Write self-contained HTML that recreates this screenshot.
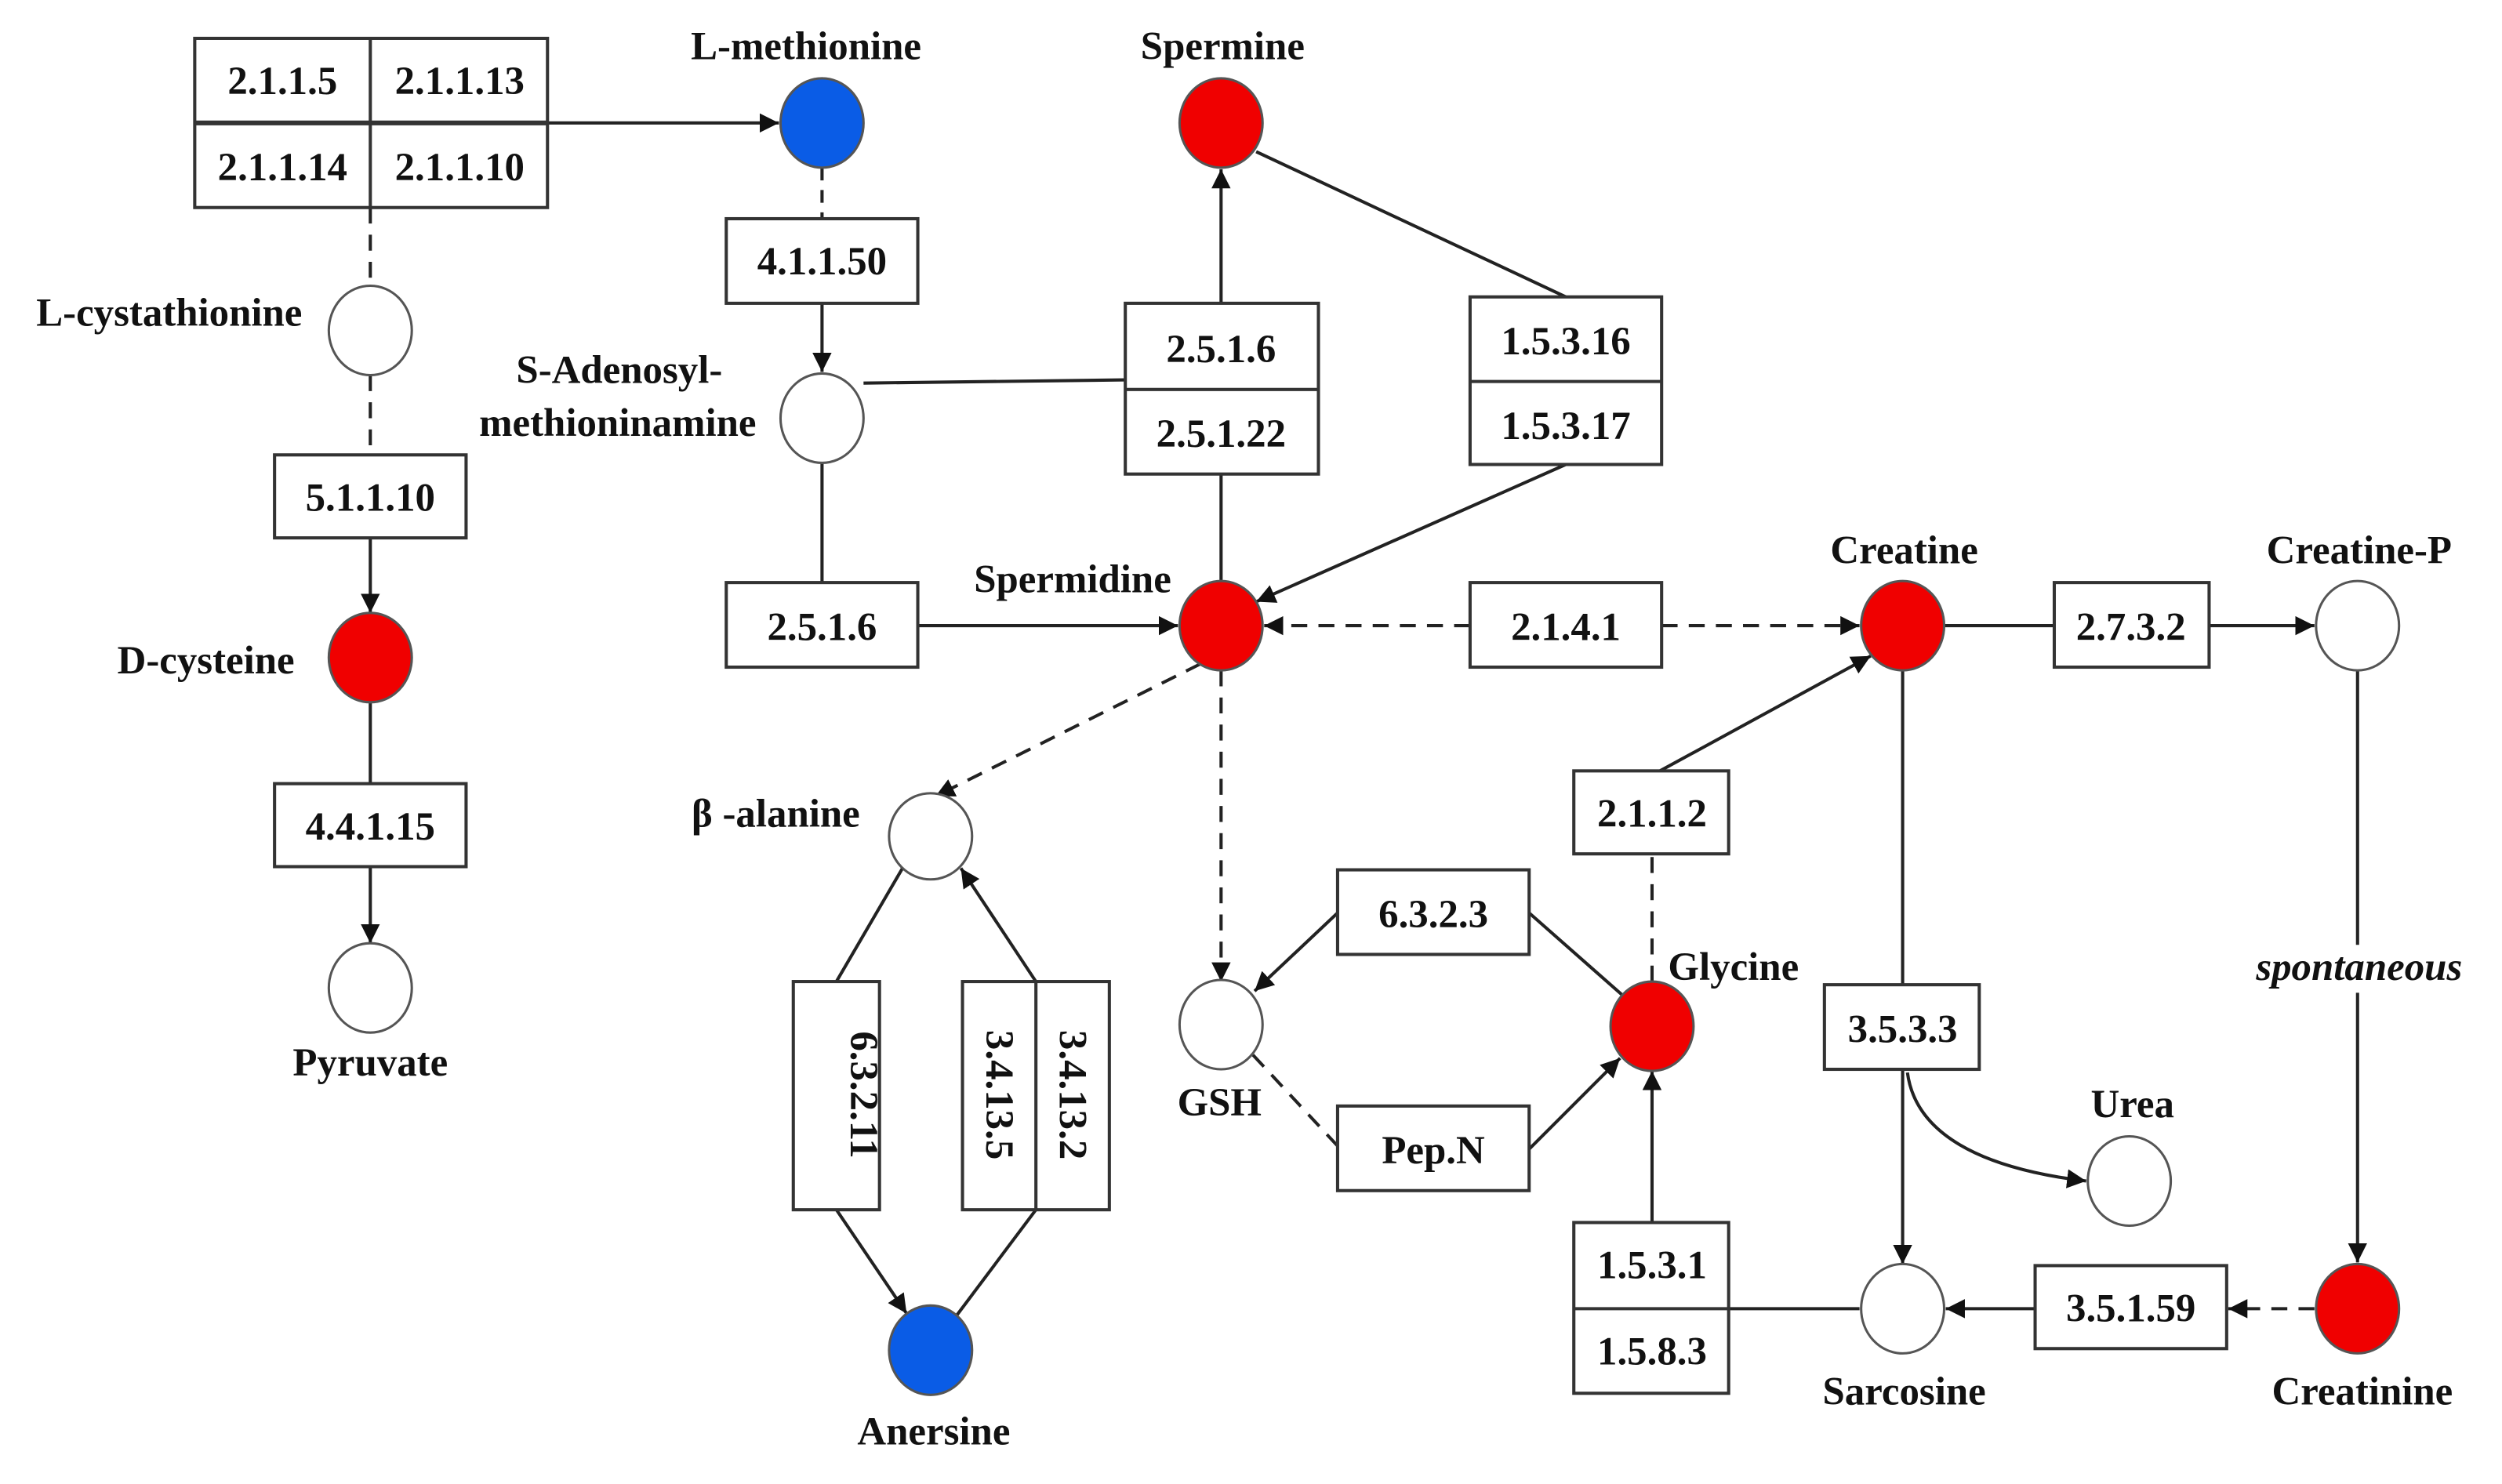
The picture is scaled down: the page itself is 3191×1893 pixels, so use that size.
<!DOCTYPE html>
<html><head><meta charset="utf-8"><style>html,body{margin:0;padding:0;background:#fff;}svg{display:block}</style></head>
<body>
<svg width="3191" height="1893" viewBox="0 0 1567.5 929.8" xmlns="http://www.w3.org/2000/svg" font-family="Liberation Serif, serif" font-weight="bold" font-size="25">
<defs>
<marker id="a" viewBox="0 0 10 10" refX="10" refY="5" markerWidth="12" markerHeight="12" markerUnits="userSpaceOnUse" orient="auto"><path d="M0,0 L10,5 L0,10 z" fill="#111"/></marker>
</defs>
<g stroke="#222" stroke-width="2" fill="none">
<line x1="343" y1="77" x2="488" y2="77" marker-end="url(#a)"/>
<line x1="232" y1="130" x2="232" y2="181" stroke-dasharray="10,7"/>
<line x1="232" y1="235" x2="232" y2="285" stroke-dasharray="10,7"/>
<line x1="232" y1="337" x2="232" y2="384" marker-end="url(#a)"/>
<line x1="232" y1="440" x2="232" y2="491"/>
<line x1="232" y1="543" x2="232" y2="591" marker-end="url(#a)"/>
<line x1="515" y1="105" x2="515" y2="137" stroke-dasharray="8,6"/>
<line x1="515" y1="190" x2="515" y2="233" marker-end="url(#a)"/>
<line x1="541" y1="240" x2="705" y2="238"/>
<line x1="515" y1="290" x2="515" y2="365"/>
<line x1="575" y1="392" x2="738" y2="392" marker-end="url(#a)"/>
<line x1="765" y1="364" x2="765" y2="297"/>
<line x1="765" y1="190" x2="765" y2="106" marker-end="url(#a)"/>
<line x1="787" y1="95" x2="981" y2="186"/>
<line x1="981" y1="291" x2="787" y2="377" marker-end="url(#a)"/>
<line x1="921" y1="392" x2="792" y2="392" stroke-dasharray="10,7" marker-end="url(#a)"/>
<line x1="1041" y1="392" x2="1165" y2="392" stroke-dasharray="10,7" marker-end="url(#a)"/>
<line x1="765" y1="420" x2="765" y2="615" stroke-dasharray="10,7" marker-end="url(#a)"/>
<line x1="752" y1="416" x2="586" y2="499" stroke-dasharray="10,7" marker-end="url(#a)"/>
<line x1="1218" y1="392" x2="1287" y2="392"/>
<line x1="1384" y1="392" x2="1450" y2="392" marker-end="url(#a)"/>
<line x1="1477" y1="420" x2="1477" y2="592"/>
<line x1="1477" y1="622" x2="1477" y2="791" marker-end="url(#a)"/>
<line x1="1450" y1="820" x2="1396" y2="820" stroke-dasharray="10,7" marker-end="url(#a)"/>
<line x1="1275" y1="820" x2="1219" y2="820" marker-end="url(#a)"/>
<line x1="1165" y1="820" x2="1083" y2="820"/>
<line x1="1035" y1="766" x2="1035" y2="671" marker-end="url(#a)"/>
<line x1="1035" y1="615" x2="1035" y2="535" stroke-dasharray="10,7"/>
<line x1="1040" y1="483" x2="1172" y2="411" marker-end="url(#a)"/>
<line x1="1192" y1="420" x2="1192" y2="617"/>
<line x1="1192" y1="670" x2="1192" y2="792" marker-end="url(#a)"/>
<path d="M1195,672 C1200,710 1240,732 1307,740" marker-end="url(#a)"/>
<line x1="1017" y1="624" x2="958" y2="572"/>
<line x1="838" y1="572" x2="786" y2="621" marker-end="url(#a)"/>
<line x1="785" y1="661" x2="838" y2="718" stroke-dasharray="10,7"/>
<line x1="958" y1="720" x2="1015" y2="663" marker-end="url(#a)"/>
<line x1="566" y1="543" x2="524" y2="615"/>
<line x1="524" y1="758" x2="568" y2="823" marker-end="url(#a)"/>
<line x1="649" y1="758" x2="598" y2="826"/>
<line x1="649" y1="615" x2="602" y2="544" marker-end="url(#a)"/>
</g>
<g stroke="#333" stroke-width="2" fill="#fff">
<rect x="122" y="24" width="221" height="106"/>
<rect x="455" y="137" width="120" height="53"/>
<rect x="172" y="285" width="120" height="52"/>
<rect x="172" y="491" width="120" height="52"/>
<rect x="705" y="190" width="121" height="107"/>
<rect x="921" y="186" width="120" height="105"/>
<rect x="455" y="365" width="120" height="53"/>
<rect x="921" y="365" width="120" height="53"/>
<rect x="1287" y="365" width="97" height="53"/>
<rect x="986" y="483" width="97" height="52"/>
<rect x="838" y="545" width="120" height="53"/>
<rect x="838" y="693" width="120" height="53"/>
<rect x="1143" y="617" width="97" height="53"/>
<rect x="1275" y="793" width="120" height="52"/>
<rect x="986" y="766" width="97" height="107"/>
<rect x="497" y="615" width="54" height="143"/>
<rect x="603" y="615" width="92" height="143"/>
</g>
<g stroke="#333" stroke-width="2">
<line x1="122" y1="77" x2="343" y2="77" stroke-width="3"/>
<line x1="232" y1="24" x2="232" y2="130"/>
<line x1="705" y1="244" x2="826" y2="244"/>
<line x1="921" y1="239" x2="1041" y2="239"/>
<line x1="986" y1="820" x2="1083" y2="820"/>
<line x1="649" y1="615" x2="649" y2="758"/>
</g>
<g stroke="#555" stroke-width="1.5">
<ellipse cx="515" cy="77" rx="26" ry="28" fill="#0a5ce6"/>
<ellipse cx="765" cy="77" rx="26" ry="28" fill="#f00000"/>
<ellipse cx="232" cy="207" rx="26" ry="28" fill="#fff"/>
<ellipse cx="515" cy="262" rx="26" ry="28" fill="#fff"/>
<ellipse cx="232" cy="412" rx="26" ry="28" fill="#f00000"/>
<ellipse cx="765" cy="392" rx="26" ry="28" fill="#f00000"/>
<ellipse cx="1192" cy="392" rx="26" ry="28" fill="#f00000"/>
<ellipse cx="1477" cy="392" rx="26" ry="28" fill="#fff"/>
<ellipse cx="583" cy="524" rx="26" ry="27" fill="#fff"/>
<ellipse cx="232" cy="619" rx="26" ry="28" fill="#fff"/>
<ellipse cx="765" cy="642" rx="26" ry="28" fill="#fff"/>
<ellipse cx="1035" cy="643" rx="26" ry="28" fill="#f00000"/>
<ellipse cx="1334" cy="740" rx="26" ry="28" fill="#fff"/>
<ellipse cx="1192" cy="820" rx="26" ry="28" fill="#fff"/>
<ellipse cx="1477" cy="820" rx="26" ry="28" fill="#f00000"/>
<ellipse cx="583" cy="846" rx="26" ry="28" fill="#0a5ce6"/>
</g>
<g fill="#111" text-anchor="middle">
<text x="177" y="59">2.1.1.5</text><text x="288" y="59">2.1.1.13</text>
<text x="177" y="113">2.1.1.14</text><text x="288" y="113">2.1.1.10</text>
<text x="515" y="172">4.1.1.50</text>
<text x="232" y="320">5.1.1.10</text>
<text x="232" y="526">4.4.1.15</text>
<text x="765" y="227">2.5.1.6</text><text x="765" y="280">2.5.1.22</text>
<text x="981" y="222">1.5.3.16</text><text x="981" y="275">1.5.3.17</text>
<text x="515" y="401">2.5.1.6</text>
<text x="981" y="401">2.1.4.1</text>
<text x="1335" y="401">2.7.3.2</text>
<text x="1035" y="518">2.1.1.2</text>
<text x="898" y="581">6.3.2.3</text>
<text x="898" y="729">Pep.N</text>
<text x="1192" y="653">3.5.3.3</text>
<text x="1335" y="828">3.5.1.59</text>
<text x="1035" y="801">1.5.3.1</text><text x="1035" y="855">1.5.8.3</text>
<text transform="translate(533,686) rotate(90)">6.3.2.11</text>
<text transform="translate(618,686) rotate(90)">3.4.13.5</text>
<text transform="translate(664,686) rotate(90)">3.4.13.2</text>
<text x="505" y="37">L-methionine</text>
<text x="766" y="37">Spermine</text>
<text x="106" y="204">L-cystathionine</text>
<text x="388" y="240">S-Adenosyl-</text>
<text x="387" y="273">methioninamine</text>
<text x="129" y="422">D-cysteine</text>
<text x="672" y="371">Spermidine</text>
<text x="1193" y="353">Creatine</text>
<text x="1478" y="353">Creatine-P</text>
<text x="486" y="518">β -alanine</text>
<text x="232" y="674">Pyruvate</text>
<text x="764" y="699">GSH</text>
<text x="1086" y="614">Glycine</text>
<text x="1478" y="614" font-style="italic">spontaneous</text>
<text x="1336" y="700">Urea</text>
<text x="1193" y="880">Sarcosine</text>
<text x="1480" y="880">Creatinine</text>
<text x="585" y="905">Anersine</text>
</g>
</svg>
</body></html>
